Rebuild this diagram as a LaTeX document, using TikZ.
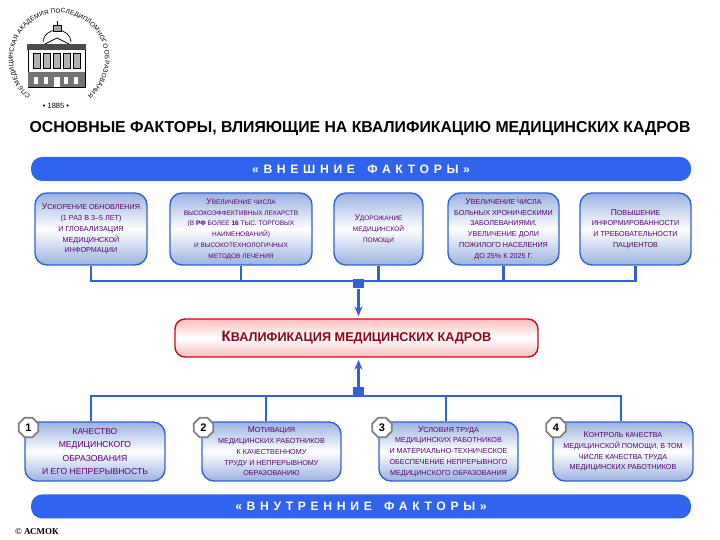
\documentclass[tikz,border=0pt]{standalone}
\usepackage{fontspec}
\setmainfont{Liberation Sans}
\newfontfamily\barfont[LetterSpace=38]{Liberation Sans}
\newfontfamily\serifbold{Liberation Serif}
\usetikzlibrary{arrows.meta,shapes.geometric,decorations.text}
\definecolor{barblue}{RGB}{48,100,238}
\definecolor{linkblue}{RGB}{52,96,214}
\definecolor{steelblue}{RGB}{155,178,224}
\definecolor{textpurple}{RGB}{84,0,110}
\definecolor{qualred}{RGB}{200,10,30}
\definecolor{qualpink}{RGB}{250,190,190}
\newcommand{\Kp}[1]{{\fontsize{8.5}{8}\selectfont #1}}
\begin{document}
\begin{tikzpicture}[
    x=1pt, y=1pt,
    >={Stealth[length=10pt,width=8pt]},
    barbox/.style={draw=none, fill=barblue, rounded corners=11pt, minimum width=660pt,
        minimum height=24pt, text=white, font=\barfont\bfseries\fontsize{12.2}{13}\selectfont},
    factbox/.style={draw=linkblue, line width=1.4pt, top color=steelblue, bottom color=steelblue,
        middle color=white, rounded corners=12pt, align=center, inner sep=0pt,
        text=textpurple, font=\fontsize{7.2}{10.8}\selectfont},
    lowbox/.style={factbox, minimum height=59pt},
    topbox/.style={factbox, minimum height=72pt},
    qualbox/.style={draw=qualred, line width=1.4pt, top color=qualpink, bottom color=qualpink,
        middle color=white, rounded corners=10pt, minimum width=363pt, minimum height=38pt,
        text=qualred!70!black, font=\bfseries\fontsize{12.7}{13}\selectfont},
    numbadge/.style={regular polygon, regular polygon sides=8, draw=black!50, line width=1.8pt,
        fill=white, inner sep=0pt, minimum size=21pt, font=\bfseries\fontsize{11}{12}\selectfont},
    junction/.style={draw=none, fill=linkblue, minimum width=11pt, minimum height=9pt, inner sep=0pt},
    bus/.style={draw=linkblue, line width=2.8pt},
    arr/.style={->, draw=linkblue, line width=2.2pt, shorten >=2pt}
]
\useasboundingbox (0,0) rectangle (720,540);

%------------------------------------------------
% Logo
%------------------------------------------------
\coordinate (logoc) at (59,481);
\path[decorate, decoration={text along path, text align={fit to path},
    text={|\fontsize{6.4}{7}\selectfont|СПб МЕДИЦИНСКАЯ АКАДЕМИЯ ПОСЛЕДИПЛОМНОГО ОБРАЗОВАНИЯ}}]
    (logoc) ++(232:46) arc[start angle=232, end angle=-52, radius=46];
\node[font=\fontsize{7.5}{8}\selectfont] (logoyear) at (56,434) {• 1885 •};
\draw[line width=0.7pt] (43,498) arc[start angle=180, end angle=0, x radius=14, y radius=12];
\draw[line width=0.7pt, fill=black!35] (53,509) rectangle (61,515);
\draw[line width=0.7pt] (57,515) -- (57,519);
\draw[line width=0.7pt, fill=white] (43,495) -- (57,502) -- (71,495) -- cycle;
\draw[line width=0.9pt, fill=white] (28,453) rectangle (85,495);
\fill[black!70] (27,490) rectangle (86,496);
\fill[black!55] (28,453) rectangle (85,468);
\foreach \wx in {33,43,53,63,73} {
    \draw[line width=0.5pt, fill=black!30] (\wx,472) rectangle ++(7,15);
    \fill[white] (\wx+1,456) rectangle ++(4,7);
}
\fill[white] (54,453) rectangle (60,463);

%------------------------------------------------
% Nadpis
%------------------------------------------------
\node[font=\bfseries\fontsize{15.8}{18}\selectfont] (title) at (360,411)
    {ОСНОВНЫЕ ФАКТОРЫ, ВЛИЯЮЩИЕ НА КВАЛИФИКАЦИЮ МЕДИЦИНСКИХ КАДРОВ};

\node[barbox] (extbar) at (361,371) {«ВНЕШНИЕ\quad ФАКТОРЫ»};
\node[barbox] (intbar) at (361,33.5) {«ВНУТРЕННИЕ\quad ФАКТОРЫ»};

\node[topbox, minimum width=112pt] (ext1) at (91,311)
    {\Kp{У}СКОРЕНИЕ ОБНОВЛЕНИЯ\\(1 РАЗ В 3--5 ЛЕТ)\\И ГЛОБАЛИЗАЦИЯ\\МЕДИЦИНСКОЙ\\ИНФОРМАЦИИ};
\node[topbox, minimum width=142pt, font=\fontsize{6.5}{10.8}\selectfont] (ext2) at (241,311)
    {\Kp{У}ВЕЛИЧЕНИЕ ЧИСЛА\\ВЫСОКОЭФФЕКТИВНЫХ ЛЕКАРСТВ\\(В \textbf{РФ} БОЛЕЕ \textbf{16} ТЫС. ТОРГОВЫХ\\НАИМЕНОВАНИЙ)\\И ВЫСОКОТЕХНОЛОГИЧНЫХ\\МЕТОДОВ ЛЕЧЕНИЯ};
\node[topbox, minimum width=89pt, font=\fontsize{6.5}{10.8}\selectfont] (ext3) at (378.5,311)
    {\Kp{У}ДОРОЖАНИЕ\\МЕДИЦИНСКОЙ\\ПОМОЩИ};
\node[topbox, minimum width=111pt] (ext4) at (503.5,311)
    {\Kp{У}ВЕЛИЧЕНИЕ ЧИСЛА\\БОЛЬНЫХ ХРОНИЧЕСКИМИ\\ЗАБОЛЕВАНИЯМИ,\\УВЕЛИЧЕНИЕ ДОЛИ\\ПОЖИЛОГО НАСЕЛЕНИЯ\\ДО 25\% К 2025 Г.};
\node[topbox, minimum width=111pt] (ext5) at (635.5,311)
    {\Kp{П}ОВЫШЕНИЕ\\ИНФОРМИРОВАННОСТИ\\И ТРЕБОВАТЕЛЬНОСТИ\\ПАЦИЕНТОВ};

\node[qualbox] (qual) at (356.5,202)
    {{\fontsize{15}{15}\selectfont К}ВАЛИФИКАЦИЯ МЕДИЦИНСКИХ КАДРОВ};

\node[lowbox, minimum width=140pt, font=\fontsize{8.6}{13.2}\selectfont] (int1) at (95,88.5)
    {\Kp{К}АЧЕСТВО\\МЕДИЦИНСКОГО\\ОБРАЗОВАНИЯ\\И ЕГО НЕПРЕРЫВНОСТЬ};
\node[lowbox, minimum width=139pt] (int2) at (271.5,88.5)
    {\Kp{М}ОТИВАЦИЯ\\МЕДИЦИНСКИХ РАБОТНИКОВ\\К КАЧЕСТВЕННОМУ\\ТРУДУ И НЕПРЕРЫВНОМУ\\ОБРАЗОВАНИЮ};
\node[lowbox, minimum width=139pt] (int3) at (448.5,88.5)
    {\Kp{У}СЛОВИЯ ТРУДА\\МЕДИЦИНСКИХ РАБОТНИКОВ\\И МАТЕРИАЛЬНО-ТЕХНИЧЕСКОЕ\\ОБЕСПЕЧЕНИЕ НЕПРЕРЫВНОГО\\МЕДИЦИНСКОГО ОБРАЗОВАНИЯ};
\node[lowbox, minimum width=140pt] (int4) at (623,88.5)
    {\Kp{К}ОНТРОЛЬ КАЧЕСТВА\\МЕДИЦИНСКОЙ ПОМОЩИ, В ТОМ\\ЧИСЛЕ КАЧЕСТВА ТРУДА\\МЕДИЦИНСКИХ РАБОТНИКОВ};

\node[numbadge] (num1) at (28.5,112.5) {1};
\node[numbadge] (num2) at (203.5,112.5) {2};
\node[numbadge] (num3) at (382,112.5) {3};
\node[numbadge] (num4) at (556,112.5) {4};

\node[anchor=west, inner sep=0pt, font=\serifbold\bfseries\fontsize{9}{10}\selectfont] (acmok) at (15,8) {© АСМОК};

%------------------------------------------------
% Spoje
%------------------------------------------------
\coordinate (bustop) at (358.5,259);
\coordinate (buslow) at (358.5,144);
\coordinate (low1) at (91,144);
\coordinate (low2) at (266,144);
\coordinate (low3) at (446,144);
\coordinate (low4) at (621,144);

\draw[bus] (ext1.south) |- (bustop) -| (ext5.south);
\draw[bus] (ext2.south) -- (ext2.south |- bustop);
\draw[bus] (ext3.south) -- (ext3.south |- bustop);
\draw[bus] (ext4.south) -- (ext4.south |- bustop);

\draw[bus] (low1 |- int1.north) |- (buslow) -| (low4 |- int4.north);
\draw[bus] (low2) -- (low2 |- int2.north);
\draw[bus] (low3) -- (low3 |- int3.north);

\node[junction] (juntop) at (358.5,256) {};
\node[junction] (junlow) at (358.5,148) {};

\draw[arr] (juntop.south) -- (juntop.south |- qual.north);
\draw[arr] (junlow.north) -- (junlow.north |- qual.south);

\end{tikzpicture}
\end{document}
